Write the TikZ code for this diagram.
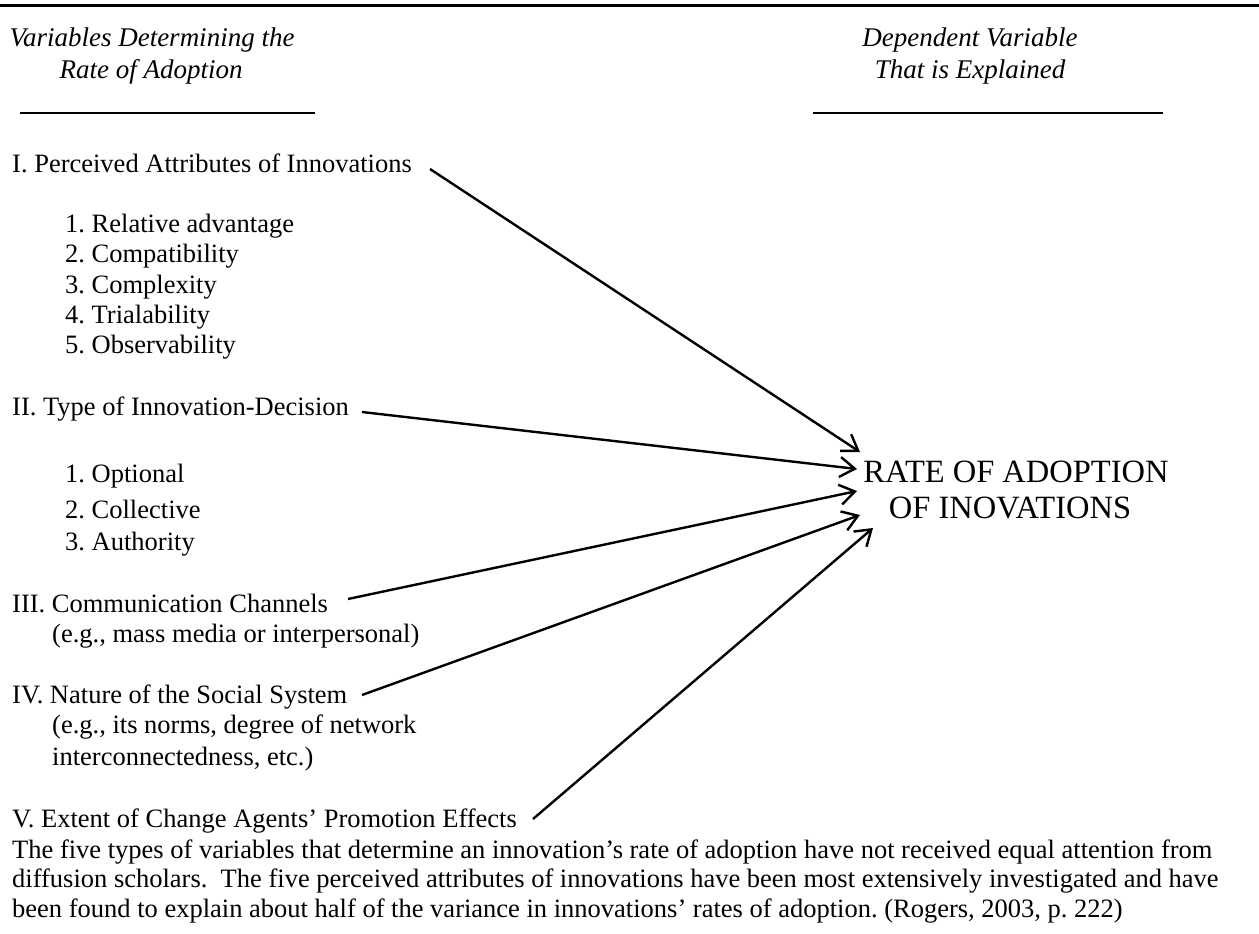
\documentclass[tikz,border=0pt]{standalone}
\usepackage{fontspec}
\setmainfont{Liberation Serif}
\usetikzlibrary{arrows.meta}
\frenchspacing
\tikzset{
  txt/.style={anchor=base west, inner sep=0pt, font=\fontsize{26.5}{30}\selectfont},
  head/.style={anchor=base, inner sep=0pt, font=\fontsize{27}{30}\selectfont\itshape},
  big/.style={anchor=base, inner sep=0pt, font=\fontsize{32.5}{36}\selectfont},
  rulebar/.style={line width=1.4pt},
  conn/.style={line width=2.4pt, -{Straight Barb[length=15pt,width=20pt]}}
}
\begin{document}
\begin{tikzpicture}[x=1pt,y=-1pt]
\useasboundingbox (0,0) rectangle (1259,934);
\draw[line width=3pt] (0,6) -- (1259,6);
% headings
\node[head] (hl1) at (152,47) {Variables Determining the};
\node[head] (hl2) at (151,78) {Rate of Adoption};
\node[head] (hr1) at (970,47) {Dependent Variable};
\node[head] (hr2) at (970,78) {That is Explained};
\coordinate (ul1) at (20,113); \coordinate (ul2) at (315,113);
\coordinate (ur1) at (813,113); \coordinate (ur2) at (1163,113);
\draw[rulebar] (ul1) -- (ul2);
\draw[rulebar] (ur1) -- (ur2);
% left column
\node[txt] (nI) at (12,172) {I. Perceived Attributes of Innovations};
\node[txt] (a1) at (65,232) {1. Relative advantage};
\node[txt] (a2) at (65,262) {2. Compatibility};
\node[txt] (a3) at (65,293) {3. Complexity};
\node[txt] (a4) at (65,323) {4. Trialability};
\node[txt] (a5) at (65,353) {5. Observability};
\node[txt] (nII) at (12,415) {II. Type of Innovation-Decision};
\node[txt] (b1) at (65,482) {1. Optional};
\node[txt] (b2) at (65,518) {2. Collective};
\node[txt] (b3) at (65,550) {3. Authority};
\node[txt] (nIII) at (12,612) {III. Communication Channels};
\node[txt] (c1) at (52,642) {(e.g., mass media or interpersonal)};
\node[txt] (nIV) at (12,703) {IV. Nature of the Social System};
\node[txt] (d1) at (52,733) {(e.g., its norms, degree of network};
\node[txt] (d2) at (52,765) {interconnectedness, etc.)};
\node[txt] (nV) at (12,827) {V. Extent of Change Agents’ Promotion Effects};
\node[txt] (p1) at (12,858) {The five types of variables that determine an innovation’s rate of adoption have not received equal attention from};
\node[txt] (p2) at (12,887) {diffusion scholars.\ \ The five perceived attributes of innovations have been most extensively investigated and have};
\node[txt] (p3) at (12,917) {been found to explain about half of the variance in innovations’ rates of adoption. (Rogers, 2003, p. 222)};
% right
\node[big] (r1) at (1016,482) {RATE OF ADOPTION};
\node[big] (r2) at (1010,518) {OF INOVATIONS};
% connectors
\coordinate (sI) at (430,169);   \coordinate (eI) at (860,452);
\coordinate (sII) at (362,412);  \coordinate (eII) at (857,469);
\coordinate (sIII) at (348,599); \coordinate (eIII) at (857,491);
\coordinate (sIV) at (362,695);  \coordinate (eIV) at (860,515);
\coordinate (sV) at (533,819);   \coordinate (eV) at (873,528);
\draw[conn] (sI) -- (eI);
\draw[conn] (sII) -- (eII);
\draw[conn] (sIII) -- (eIII);
\draw[conn] (sIV) -- (eIV);
\draw[conn] (sV) -- (eV);
\end{tikzpicture}
\end{document}
